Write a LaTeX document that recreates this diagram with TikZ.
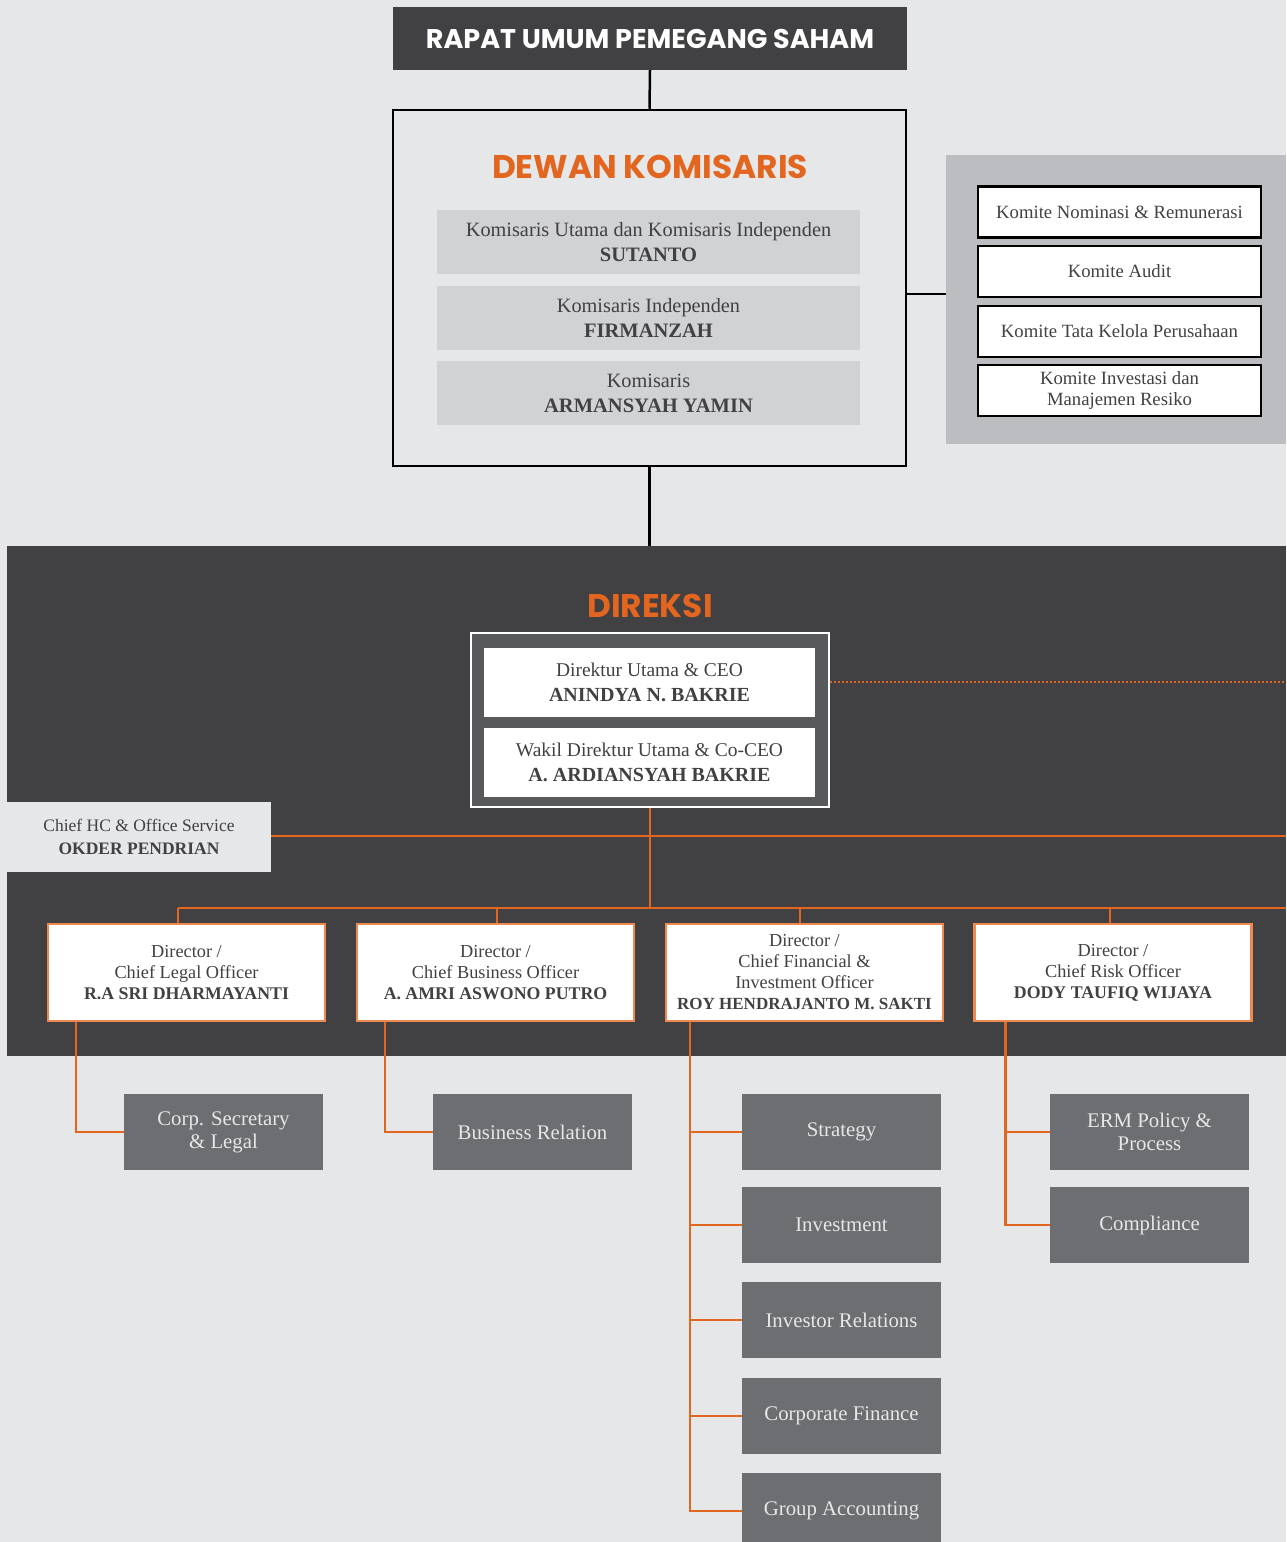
\documentclass[tikz,border=0pt]{standalone}
\usepackage{fontspec}
\setmainfont{Liberation Serif}
\newfontfamily\headfont{Poppins}
\definecolor{bgcol}{HTML}{E6E7E8}
\definecolor{darkcol}{HTML}{414042}
\definecolor{panelcol}{HTML}{D1D2D4}
\definecolor{komcol}{HTML}{BCBDC0}
\definecolor{framecol}{HTML}{58595B}
\definecolor{subcol}{HTML}{6D6E71}
\definecolor{orangecol}{HTML}{E2661F}
\definecolor{edgecol}{HTML}{EE8A4F}

\begin{document}
\begin{tikzpicture}[x=1pt,y=-1pt,
	txt/.style={font=\fontsize{18.3}{21}\selectfont, text=darkcol, align=center},
	panel/.style={txt, fill=panelcol, minimum width=423pt, minimum height=64pt, font=\fontsize{20.3}{25}\selectfont},
	komite/.style={txt, fill=white, draw=black, line width=2.5pt, minimum width=283pt, minimum height=51pt, font=\fontsize{18.7}{21}\selectfont},
	ceobox/.style={txt, fill=white, minimum width=331pt, minimum height=69pt, font=\fontsize{19.5}{25}\selectfont},
	dirbox/.style={txt, fill=white, draw=edgecol, line width=2.5pt, minimum width=277pt, minimum height=97pt},
	subbox/.style={txt, fill=subcol, text=bgcol, minimum width=199pt, minimum height=76pt, font=\fontsize{20.8}{23}\selectfont},
	blackline/.style={draw=black, line width=2.5pt},
	orgline/.style={draw=orangecol, line width=2.5pt},
	head/.style={font=\headfont\bfseries\fontsize{27}{30}\selectfont, text=white},
	bighead/.style={font=\headfont\bfseries\fontsize{32.8}{36}\selectfont, text=orangecol}]
	\useasboundingbox (0,0) rectangle (1286,1542);
	\fill[bgcol] (0,0) rectangle (1286,1542);

	\node[fill=darkcol, minimum width=514pt, minimum height=63pt, head] (rups) at (650,38.5) {RAPAT UMUM PEMEGANG SAHAM};

	\node[draw=black, line width=2.5pt, minimum width=513pt, minimum height=356pt] (dewan) at (649.5,288) {};
	\node[bighead] (dewantitle) at (650,167) {DEWAN KOMISARIS};
	\node[panel] (kutama) at (648.5,242) {Komisaris Utama dan Komisaris Independen\\\textbf{\fontsize{20.5}{25}\selectfont SUTANTO}};
	\node[panel] (kindep) at (648.5,318) {Komisaris Independen\\\textbf{\fontsize{20.5}{25}\selectfont FIRMANZAH}};
	\node[panel] (kom) at (648.5,393) {Komisaris\\\textbf{\fontsize{20.5}{25}\selectfont ARMANSYAH YAMIN}};

	\node[fill=komcol, minimum width=340pt, minimum height=289pt] (kpanel) at (1116,299.5) {};
	\node[komite] (knom) at (1119.5,212) {Komite Nominasi \& Remunerasi};
	\node[komite] (kaudit) at (1119.5,271.5) {Komite Audit};
	\node[komite] (ktata) at (1119.5,331.5) {Komite Tata Kelola Perusahaan};
	\node[komite] (kinv) at (1119.5,390.5) {Komite Investasi dan\\Manajemen Resiko};

	\coordinate (kjoin) at (946,294);
	\draw[blackline] (rups.south) -- (dewan.north);
	\draw[blackline] (kjoin -| dewan.east) -- (kjoin);

	\node[fill=darkcol, minimum width=1279pt, minimum height=510pt] (direksi) at (646.5,801) {};
	\draw[blackline] (dewan.south) -- (dewan.south |- direksi.north);
	\node[bighead] (direksititle) at (650,606) {DIREKSI};

	\node[fill=framecol, draw=white, line width=2pt, minimum width=358pt, minimum height=174pt] (ceoframe) at (650,720) {};
	\node[ceobox] (ceo) at (649.5,682.5) {Direktur Utama \& CEO\\\textbf{\fontsize{20}{25}\selectfont ANINDYA N. BAKRIE}};
	\node[ceobox] (coceo) at (649.5,762.5) {Wakil Direktur Utama \& Co-CEO\\\textbf{\fontsize{20}{25}\selectfont A. ARDIANSYAH BAKRIE}};
	\coordinate (dotend) at (1286,682);
	\draw[draw=orangecol, line width=2pt, dotted] (ceoframe.east |- dotend) -- (dotend);

	\node[fill=bgcol, minimum width=264pt, minimum height=70pt, txt, font=\fontsize{17.5}{23}\selectfont] (hc) at (139,837) {Chief HC \& Office Service\\\textbf{\fontsize{17.5}{23}\selectfont OKDER PENDRIAN}};
	\coordinate (hcend) at (1286,836);
	\draw[orgline] (hc.east |- hcend) -- (hcend);

	\node[dirbox] (dlegal) at (186.5,972.5) {Director /\\Chief Legal Officer\\\textbf{\fontsize{17.8}{21}\selectfont R.A SRI DHARMAYANTI}};
	\node[dirbox] (dbiz) at (495.5,972.5) {Director /\\Chief Business Officer\\\textbf{\fontsize{17.8}{21}\selectfont A. AMRI ASWONO PUTRO}};
	\node[dirbox] (dcfo) at (804.5,972.5) {Director /\\Chief Financial \&\\Investment Officer\\\textbf{\fontsize{17}{21}\selectfont ROY HENDRAJANTO M. SAKTI}};
	\node[dirbox] (drisk) at (1113,972.5) {Director /\\Chief Risk Officer\\\textbf{\fontsize{17.8}{21}\selectfont DODY TAUFIQ WIJAYA}};

	\coordinate (busL) at (178,908);
	\coordinate (busR) at (1286,908);
	\draw[orgline] (ceoframe.south) -- (ceoframe.south |- busL);
	\draw[orgline] (busL) -- (busR);
	\draw[orgline] (busL) -- ([xshift=-8.5pt]dlegal.north);
	\draw[orgline] ([xshift=1.5pt]dbiz.north |- busL) -- ([xshift=1.5pt]dbiz.north);
	\draw[orgline] ([xshift=-4.5pt]dcfo.north |- busL) -- ([xshift=-4.5pt]dcfo.north);
	\draw[orgline] ([xshift=-3pt]drisk.north |- busL) -- ([xshift=-3pt]drisk.north);

	\node[subbox] (corpsec) at (223.5,1132) {Corp. Secretary\\\& Legal};
	\node[subbox] (bizrel) at (532.5,1132) {Business Relation};
	\node[subbox] (strategy) at (841.5,1132) {Strategy};
	\node[subbox] (invest) at (841.5,1225) {Investment};
	\node[subbox] (invrel) at (841.5,1320) {Investor Relations};
	\node[subbox] (corpfin) at (841.5,1416) {Corporate Finance};
	\node[subbox] (grpacc) at (841.5,1511) {Group Accounting};
	\node[subbox] (erm) at (1149.5,1132) {ERM Policy \&\\Process};
	\node[subbox] (compl) at (1149.5,1225) {Compliance};

	\draw[orgline] ([xshift=29pt]dlegal.south west) |- (corpsec.west);
	\draw[orgline] ([xshift=29pt]dbiz.south west) |- (bizrel.west);
	\coordinate (cfotrunk) at ([xshift=25pt]dcfo.south west);
	\draw[orgline] (cfotrunk) |- (grpacc.west);
	\foreach \n in {strategy,invest,invrel,corpfin}
		\draw[orgline] (\n.west) -- (\n.west -| cfotrunk);
	\coordinate (risktrunk) at ([xshift=32pt]drisk.south west);
	\draw[orgline] (risktrunk) |- (compl.west);
	\draw[orgline] (erm.west) -- (erm.west -| risktrunk);
\end{tikzpicture}
\end{document}
